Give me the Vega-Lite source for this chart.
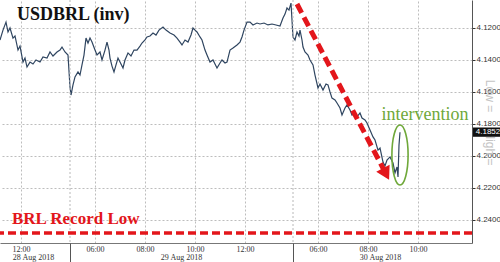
{
  "$schema": "https://vega.github.io/schema/vega-lite/v6.json",
  "width": 472,
  "height": 243,
  "autosize": {"type": "none"},
  "padding": {"left": 0, "top": 0, "right": 28, "bottom": 19},
  "background": "white",
  "config": {"view": {"stroke": null}, "axis": {"labelFont": "Liberation Sans", "labelFontSize": 8, "labelColor": "#333"}},
  "datasets": {
    "price": [
      {"t": -3.80, "v": 4.1275}, {"t": -3.68, "v": 4.1213}, {"t": -3.56, "v": 4.1163}, {"t": -3.48, "v": 4.1225},
      {"t": -3.40, "v": 4.1200}, {"t": -3.28, "v": 4.1263}, {"t": -3.20, "v": 4.1250}, {"t": -3.08, "v": 4.1338},
      {"t": -3.00, "v": 4.1313}, {"t": -2.88, "v": 4.1413}, {"t": -2.80, "v": 4.1388}, {"t": -2.72, "v": 4.1444},
      {"t": -2.60, "v": 4.1413}, {"t": -2.48, "v": 4.1425}, {"t": -2.36, "v": 4.1400}, {"t": -2.20, "v": 4.1413},
      {"t": -2.08, "v": 4.1381}, {"t": -1.92, "v": 4.1388}, {"t": -1.80, "v": 4.1350}, {"t": -1.68, "v": 4.1375},
      {"t": -1.52, "v": 4.1350}, {"t": -1.40, "v": 4.1338}, {"t": -1.32, "v": 4.1319}, {"t": -1.20, "v": 4.1350},
      {"t": -1.08, "v": 4.1369},
      {"t": -1.00, "v": 4.1569}, {"t": -0.96, "v": 4.1619}, {"t": -0.88, "v": 4.1556}, {"t": -0.80, "v": 4.1506},
      {"t": -0.68, "v": 4.1475}, {"t": -0.60, "v": 4.1494}, {"t": -0.52, "v": 4.1431}, {"t": -0.44, "v": 4.1369},
      {"t": -0.36, "v": 4.1263}, {"t": -0.28, "v": 4.1294}, {"t": -0.20, "v": 4.1263}, {"t": -0.12, "v": 4.1288},
      {"t": 0.00, "v": 4.1338}, {"t": 0.08, "v": 4.1369}, {"t": 0.20, "v": 4.1350}, {"t": 0.28, "v": 4.1400},
      {"t": 0.40, "v": 4.1338}, {"t": 0.48, "v": 4.1288}, {"t": 0.56, "v": 4.1338}, {"t": 0.60, "v": 4.1388},
      {"t": 0.68, "v": 4.1438}, {"t": 0.76, "v": 4.1475}, {"t": 0.84, "v": 4.1431}, {"t": 0.92, "v": 4.1388},
      {"t": 1.00, "v": 4.1413}, {"t": 1.12, "v": 4.1450}, {"t": 1.20, "v": 4.1400}, {"t": 1.32, "v": 4.1356},
      {"t": 1.44, "v": 4.1375}, {"t": 1.56, "v": 4.1338}, {"t": 1.68, "v": 4.1338}, {"t": 1.80, "v": 4.1313},
      {"t": 1.88, "v": 4.1294}, {"t": 2.00, "v": 4.1275}, {"t": 2.08, "v": 4.1256}, {"t": 2.20, "v": 4.1250},
      {"t": 2.32, "v": 4.1231}, {"t": 2.44, "v": 4.1244}, {"t": 2.56, "v": 4.1213}, {"t": 2.72, "v": 4.1194},
      {"t": 2.84, "v": 4.1213}, {"t": 3.00, "v": 4.1231}, {"t": 3.16, "v": 4.1244}, {"t": 3.28, "v": 4.1263},
      {"t": 3.40, "v": 4.1288}, {"t": 3.48, "v": 4.1306}, {"t": 3.60, "v": 4.1275}, {"t": 3.72, "v": 4.1288},
      {"t": 3.84, "v": 4.1244}, {"t": 3.92, "v": 4.1200}, {"t": 4.00, "v": 4.1213}, {"t": 4.08, "v": 4.1225},
      {"t": 4.20, "v": 4.1256}, {"t": 4.28, "v": 4.1275}, {"t": 4.40, "v": 4.1338}, {"t": 4.48, "v": 4.1369},
      {"t": 4.60, "v": 4.1413}, {"t": 4.72, "v": 4.1400}, {"t": 4.80, "v": 4.1425}, {"t": 4.88, "v": 4.1450},
      {"t": 5.00, "v": 4.1419}, {"t": 5.08, "v": 4.1400}, {"t": 5.20, "v": 4.1419}, {"t": 5.28, "v": 4.1413},
      {"t": 5.40, "v": 4.1338}, {"t": 5.52, "v": 4.1325}, {"t": 5.68, "v": 4.1306}, {"t": 5.80, "v": 4.1288},
      {"t": 5.88, "v": 4.1256}, {"t": 5.96, "v": 4.1213}, {"t": 6.08, "v": 4.1163}, {"t": 6.20, "v": 4.1163},
      {"t": 6.32, "v": 4.1181}, {"t": 6.48, "v": 4.1169}, {"t": 6.60, "v": 4.1175}, {"t": 6.76, "v": 4.1169},
      {"t": 6.92, "v": 4.1181}, {"t": 7.08, "v": 4.1175}, {"t": 7.24, "v": 4.1181}, {"t": 7.40, "v": 4.1188},
      {"t": 7.52, "v": 4.1138}, {"t": 7.60, "v": 4.1113}, {"t": 7.68, "v": 4.1075}, {"t": 7.76, "v": 4.1088},
      {"t": 7.84, "v": 4.1044},
      {"t": 7.92, "v": 4.1256}, {"t": 8.00, "v": 4.1275}, {"t": 8.08, "v": 4.1225}, {"t": 8.16, "v": 4.1250},
      {"t": 8.20, "v": 4.1213}, {"t": 8.28, "v": 4.1275}, {"t": 8.32, "v": 4.1319}, {"t": 8.40, "v": 4.1350},
      {"t": 8.52, "v": 4.1369}, {"t": 8.60, "v": 4.1400}, {"t": 8.72, "v": 4.1431}, {"t": 8.80, "v": 4.1494},
      {"t": 8.92, "v": 4.1575}, {"t": 9.00, "v": 4.1550}, {"t": 9.12, "v": 4.1588}, {"t": 9.24, "v": 4.1550},
      {"t": 9.32, "v": 4.1556}, {"t": 9.40, "v": 4.1600}, {"t": 9.48, "v": 4.1638}, {"t": 9.60, "v": 4.1650},
      {"t": 9.68, "v": 4.1669}, {"t": 9.80, "v": 4.1700}, {"t": 9.88, "v": 4.1744}, {"t": 10.00, "v": 4.1700},
      {"t": 10.08, "v": 4.1681}, {"t": 10.20, "v": 4.1713}, {"t": 10.28, "v": 4.1744}, {"t": 10.40, "v": 4.1731},
      {"t": 10.48, "v": 4.1756}, {"t": 10.60, "v": 4.1731}, {"t": 10.68, "v": 4.1763}, {"t": 10.80, "v": 4.1775},
      {"t": 10.88, "v": 4.1794}, {"t": 11.00, "v": 4.1838}, {"t": 11.12, "v": 4.1881}, {"t": 11.20, "v": 4.1900},
      {"t": 11.32, "v": 4.1963}, {"t": 11.40, "v": 4.1950}, {"t": 11.52, "v": 4.2038}, {"t": 11.60, "v": 4.2063},
      {"t": 11.68, "v": 4.2025}, {"t": 11.80, "v": 4.2006}, {"t": 11.92, "v": 4.2044}, {"t": 12.00, "v": 4.2106},
      {"t": 12.08, "v": 4.2069}, {"t": 12.12, "v": 4.2131}, {"t": 12.16, "v": 4.1931}, {"t": 12.20, "v": 4.1852}
    ]
  },
  "resolve": {"axis": {"x": "independent", "y": "shared"}},
  "layer": [
    {
      "data": {"name": "price"},
      "mark": {"type": "line", "color": "#2f4560", "strokeWidth": 1.2},
      "encoding": {
        "x": {"field": "t", "type": "quantitative",
          "scale": {"domain": [-3.8, 15.08], "nice": false, "zero": false},
          "axis": {"orient": "bottom", "title": null, "values": [-2.96, 0, 2, 4, 6, 8.92, 10.92, 12.92],
            "labelExpr": "datum.value < -1 ? '12:00' : datum.value < 1 ? '06:00' : datum.value < 3 ? '08:00' : datum.value < 5 ? '10:00' : datum.value < 7 ? '12:00' : datum.value < 10 ? '06:00' : datum.value < 12 ? '08:00' : '10:00'",
            "ticks": false, "labelPadding": 2, "domain": true, "domainColor": "#777", "grid": true, "gridColor": "#bdbdbd", "gridDash": [2, 2], "labelFont": "Liberation Serif", "labelFontSize": 8}},
        "y": {"field": "v", "type": "quantitative",
          "scale": {"domain": [4.1025, 4.2544], "reverse": true, "nice": false, "zero": false},
          "axis": {"orient": "right", "title": null, "values": [4.12, 4.14, 4.16, 4.18, 4.2, 4.22, 4.24], "format": ".4f",
            "tickSize": 3, "tickColor": "#333", "labelPadding": 1, "domainColor": "#555", "grid": true, "gridColor": "#bdbdbd", "gridDash": [2, 2]}}
      }
    },
    {
      "data": {"values": [{"t": -1.0}, {"t": 7.92}]},
      "mark": {"type": "rule", "color": "#b8b8b8", "strokeDash": [2, 2], "strokeWidth": 1},
      "encoding": {
        "x": {"field": "t", "type": "quantitative",
          "axis": {"orient": "bottom", "values": [-1.0, 7.92], "labels": false, "domain": false, "grid": false, "ticks": true, "tickSize": 19, "tickColor": "#555", "tickWidth": 1, "title": null}}
      }
    },
    {
      "data": {"values": [{"v": 4.2481}]},
      "mark": {"type": "rule", "color": "#e3161b", "strokeWidth": 3.5, "strokeDash": [8, 4]},
      "encoding": {"y": {"field": "v", "type": "quantitative"}}
    },
    {
      "data": {"values": [{"t": 8.08, "v": 4.105}, {"t": 11.56, "v": 4.2088}]},
      "mark": {"type": "line", "color": "#e3161b", "strokeWidth": 5, "strokeDash": [10, 5]},
      "encoding": {
        "x": {"field": "t", "type": "quantitative", "axis": null},
        "y": {"field": "v", "type": "quantitative"}
      }
    },
    {
      "data": {"values": [{"t": 11.64, "v": 4.2113}]},
      "mark": {"type": "point", "shape": "triangle-down", "filled": true, "color": "#e3161b", "opacity": 1, "size": 230, "angle": 332},
      "encoding": {
        "x": {"field": "t", "type": "quantitative", "axis": null},
        "y": {"field": "v", "type": "quantitative"}
      }
    },
    {
      "data": {"values": [{"t": 12.2, "v": 4.1994}]},
      "mark": {"type": "point", "shape": "M0,-1 A0.27,1 0 1,1 0,1 A0.27,1 0 1,1 0,-1 Z", "filled": false, "color": "#6fa83a", "strokeWidth": 1.6, "opacity": 1, "size": 3600},
      "encoding": {
        "x": {"field": "t", "type": "quantitative", "axis": null},
        "y": {"field": "v", "type": "quantitative"}
      }
    },
    {
      "data": {"values": [{"t": -2.48, "v": 4.1116, "label": "28 Aug 2018"}]},
      "mark": {"type": "text", "opacity": 0},
      "encoding": {
        "x": {"field": "t", "type": "quantitative",
          "axis": {"orient": "bottom", "title": null, "values": [-2.48, 3.44, 11.4],
            "labelExpr": "datum.value < 0 ? '28 Aug 2018' : datum.value < 8 ? '29 Aug 2018' : '30 Aug 2018'",
            "ticks": false, "domain": false, "grid": false, "labelPadding": 10, "labelFont": "Liberation Serif", "labelFontSize": 8}},
        "y": {"field": "v", "type": "quantitative"},
        "text": {"field": "label"}
      }
    },
    {
      "data": {"values": [{"t": -3.12, "v": 4.1116, "label": "USDBRL (inv)"}]},
      "mark": {"type": "text", "align": "left", "baseline": "middle", "font": "Liberation Serif", "fontWeight": "bold", "fontSize": 18, "color": "#111"},
      "encoding": {
        "x": {"field": "t", "type": "quantitative", "axis": null},
        "y": {"field": "v", "type": "quantitative"},
        "text": {"field": "label"}
      }
    },
    {
      "data": {"values": [{"t": -3.32, "v": 4.2394, "label": "BRL Record Low"}]},
      "mark": {"type": "text", "align": "left", "baseline": "middle", "font": "Liberation Serif", "fontWeight": "bold", "fontSize": 17, "color": "#e3161b"},
      "encoding": {
        "x": {"field": "t", "type": "quantitative", "axis": null},
        "y": {"field": "v", "type": "quantitative"},
        "text": {"field": "label"}
      }
    },
    {
      "data": {"values": [{"t": 13.2, "v": 4.1744, "label": "intervention"}]},
      "mark": {"type": "text", "align": "center", "baseline": "middle", "font": "Liberation Serif", "fontSize": 18, "color": "#6fa83a"},
      "encoding": {
        "x": {"field": "t", "type": "quantitative", "axis": null},
        "y": {"field": "v", "type": "quantitative"},
        "text": {"field": "label"}
      }
    },
    {
      "data": {"values": [{"t": 15.8, "v": 4.1625, "label": "Low ="}, {"t": 15.8, "v": 4.1950, "label": "High ="}]},
      "mark": {"type": "text", "align": "center", "baseline": "middle", "font": "Liberation Sans", "fontSize": 12, "color": "#c4c4c4", "angle": 90},
      "encoding": {
        "x": {"field": "t", "type": "quantitative", "axis": null},
        "y": {"field": "v", "type": "quantitative"},
        "text": {"field": "label"}
      }
    },
    {
      "data": {"values": [{"t": 15.12, "t2": 16.3, "v": 4.1822, "v2": 4.1880}]},
      "mark": {"type": "rect", "color": "#111"},
      "encoding": {
        "x": {"field": "t", "type": "quantitative", "axis": null},
        "x2": {"field": "t2"},
        "y": {"field": "v", "type": "quantitative"},
        "y2": {"field": "v2"}
      }
    },
    {
      "data": {"values": [{"t": 15.72, "v": 4.1851, "label": "4.1852"}]},
      "mark": {"type": "text", "align": "center", "baseline": "middle", "font": "Liberation Sans", "fontSize": 8, "color": "white"},
      "encoding": {
        "x": {"field": "t", "type": "quantitative", "axis": null},
        "y": {"field": "v", "type": "quantitative"},
        "text": {"field": "label"}
      }
    }
  ]
}
